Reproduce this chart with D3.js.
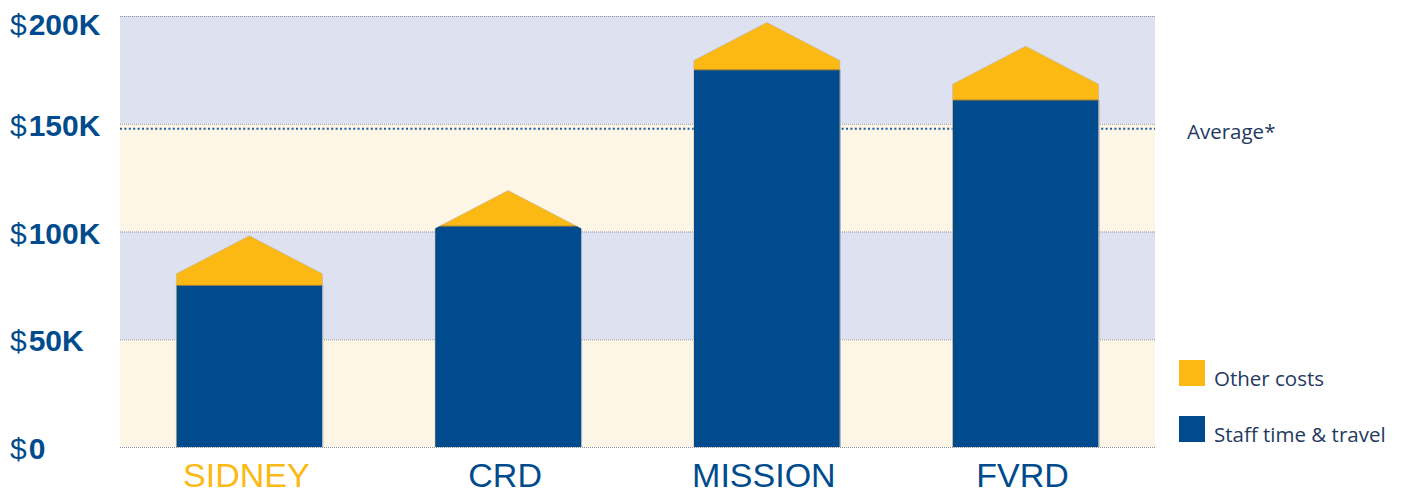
<!DOCTYPE html>
<html>
<head>
<meta charset="utf-8">
<script src="https://cdn.jsdelivr.net/npm/d3@7"></script>
<style>
  html, body { margin: 0; padding: 0; background: #ffffff; }
  svg { display: block; }
</style>
</head>
<body>
<svg id="chart" width="1404" height="493"></svg>
<script>
// ---- Data (values in thousands of dollars) ----
const categories = ["SIDNEY", "CRD", "MISSION", "FVRD"];
const staffValues = [75, 102.5, 175, 161];
const otherValues = [23, 16.5, 22, 25];
const averageValue = 147.7;
const tickValues = [0, 50, 100, 150, 200];
const tickLabels = ["0", "50K", "100K", "150K", "200K"];
const legendLabels = ["Other costs", "Staff time & travel"];
const averageLabel = "Average*";

// ---- Styles ----
const BLUE = "#004b8d";
const YELLOW = "#fdb913";
const LAVENDER = "#dee1f0";
const CREAM = "#fdf5e5";
const TEXT_DARK = "#23395f";
const ROOF_PX = 38;

const svg = d3.select("#chart");
const x = d3.scaleBand().domain(categories).range([120, 1155]).paddingInner(0.436).paddingOuter(0.218);
const y = d3.scaleLinear().domain([0, 200]).range([447, 16]);

// Background bands
const bandEdges = d3.pairs(tickValues);
svg.append("g").selectAll("rect").data(bandEdges).join("rect")
  .attr("x", 120).attr("width", 1155 - 120)
  .attr("y", d => y(d[1])).attr("height", d => y(d[0]) - y(d[1]))
  .attr("fill", (d, i) => i % 2 === 0 ? CREAM : LAVENDER);

// Gridlines (dotted)
svg.append("g").selectAll("line").data(tickValues).join("line")
  .attr("x1", 120).attr("x2", 1155)
  .attr("y1", d => y(d) + 0.5).attr("y2", d => y(d) + 0.5)
  .attr("stroke", "#8b90a3").attr("stroke-width", 1.2)
  .attr("stroke-dasharray", "1,1");

// Average line
svg.append("line")
  .attr("x1", 120).attr("x2", 1155)
  .attr("y1", y(averageValue)).attr("y2", y(averageValue))
  .attr("stroke", "#1d5ea6").attr("stroke-width", 2)
  .attr("stroke-dasharray", "2,2.4");

svg.append("text").attr("x", 1187).attr("y", 139)
  .attr("font-family", "'Open Sans', sans-serif").attr("font-size", 20.5)
  .attr("fill", TEXT_DARK).text(averageLabel);

// Bars as houses
const data = categories.map((c, i) => ({ c, staff: staffValues[i], other: otherValues[i], i }));
const defs = svg.append("defs");
function housePoints(d) {
  const x0 = x(d.c), x1 = x0 + x.bandwidth(), xc = x0 + x.bandwidth() / 2;
  const peak = y(d.staff + d.other), shoulder = peak + ROOF_PX, base = y(0);
  return [[x0, base], [x0, shoulder], [xc, peak], [x1, shoulder], [x1, base]];
}
data.forEach(d => {
  defs.append("clipPath").attr("id", "house" + d.i)
    .append("polygon").attr("points", housePoints(d).map(p => p.join(",")).join(" "));
});

const bars = svg.append("g").selectAll("g").data(data).join("g");
bars.append("polygon")
  .attr("points", d => housePoints(d).map(p => p.join(",")).join(" "))
  .attr("fill", YELLOW)
  .attr("stroke", "#b9b4a0").attr("stroke-width", 0.8).attr("stroke-opacity", 0.7);
bars.append("rect")
  .attr("clip-path", d => `url(#house${d.i})`)
  .attr("x", d => x(d.c)).attr("width", x.bandwidth())
  .attr("y", d => y(d.staff)).attr("height", d => y(0) - y(d.staff))
  .attr("fill", BLUE);
bars.append("line")
  .attr("clip-path", d => `url(#house${d.i})`)
  .attr("x1", d => x(d.c)).attr("x2", d => x(d.c) + x.bandwidth())
  .attr("y1", d => y(d.staff)).attr("y2", d => y(d.staff))
  .attr("stroke", "#9c7f3c").attr("stroke-width", 1);
bars.append("line")
  .attr("x1", d => x(d.c) + x.bandwidth() + 0.5).attr("x2", d => x(d.c) + x.bandwidth() + 0.5)
  .attr("y1", d => Math.max(y(d.staff), y(d.staff + d.other) + ROOF_PX)).attr("y2", y(0))
  .attr("stroke", "#a9b0c8").attr("stroke-width", 1);

// Y axis labels
const yl = svg.append("g").selectAll("text").data(tickValues).join("text")
  .attr("x", 10)
  .attr("y", d => Math.max(y(d) + 12, 35))
  .attr("font-family", "'Liberation Sans', Arial, sans-serif")
  .attr("font-size", 30).attr("fill", BLUE);
yl.append("tspan").attr("font-weight", "normal").text("$");
yl.append("tspan").attr("dx", 2).attr("font-weight", "bold").text((d, i) => tickLabels[i]);

// X axis labels
svg.append("g").selectAll("text").data(categories).join("text")
  .attr("x", d => x(d) + x.bandwidth() / 2 - 3)
  .attr("y", 487)
  .attr("text-anchor", "middle")
  .attr("font-family", "'Liberation Sans', Arial, sans-serif")
  .attr("font-size", 34)
  .attr("fill", (d, i) => i === 0 ? YELLOW : BLUE)
  .text(d => d);

// Legend
const legendColors = [YELLOW, BLUE];
const legendY = [360, 416];
const lg = svg.append("g").selectAll("g").data(legendLabels).join("g");
lg.append("rect").attr("x", 1179).attr("y", (d, i) => legendY[i])
  .attr("width", 26).attr("height", 26).attr("fill", (d, i) => legendColors[i]);
lg.append("text").attr("x", 1214).attr("y", (d, i) => legendY[i] + 26)
  .attr("font-family", "'Open Sans', sans-serif").attr("font-size", 20.5)
  .attr("fill", TEXT_DARK).text(d => d);
</script>
</body>
</html>
